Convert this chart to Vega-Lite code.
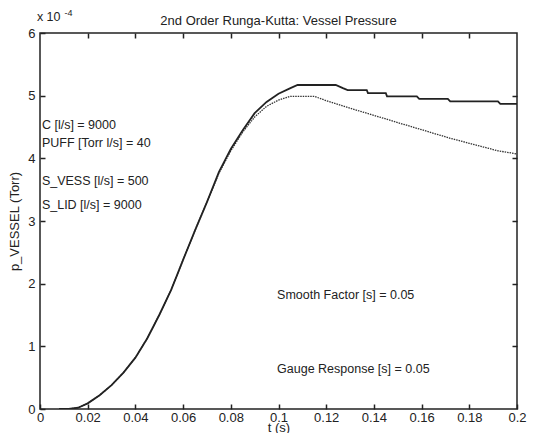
{
  "$schema": "https://vega.github.io/schema/vega-lite/v6.json",
  "width": 477,
  "height": 376,
  "autosize": {"type": "none"},
  "padding": {"left": 40, "top": 33, "right": 19, "bottom": 24},
  "background": "white",
  "config": {
    "font": "Liberation Sans",
    "view": {"stroke": "#222", "strokeWidth": 1.5},
    "axis": {"grid": false, "domain": false, "tickColor": "#222", "tickWidth": 1.5, "tickSize": -5, "labelColor": "#222", "labelFontSize": 13, "labelFont": "Liberation Sans", "titleColor": "#222", "titleFont": "Liberation Sans", "titleFontWeight": "normal", "titleFontSize": 13}
  },
  "title": {"text": "2nd Order Runga-Kutta: Vessel Pressure", "fontSize": 13, "fontWeight": "normal", "color": "#222", "font": "Liberation Sans", "offset": -19, "anchor": "middle"},
  "datasets": {
    "curves": [
      {"t": 0.008, "v": 0, "s": "A"}, {"t": 0.012, "v": 0, "s": "A"}, {"t": 0.016, "v": 0.02, "s": "A"}, {"t": 0.02, "v": 0.09, "s": "A"}, {"t": 0.025, "v": 0.22, "s": "A"}, {"t": 0.03, "v": 0.38, "s": "A"}, {"t": 0.035, "v": 0.58, "s": "A"}, {"t": 0.04, "v": 0.82, "s": "A"}, {"t": 0.045, "v": 1.13, "s": "A"}, {"t": 0.05, "v": 1.5, "s": "A"}, {"t": 0.055, "v": 1.9, "s": "A"}, {"t": 0.06, "v": 2.38, "s": "A"}, {"t": 0.065, "v": 2.85, "s": "A"}, {"t": 0.07, "v": 3.3, "s": "A"}, {"t": 0.075, "v": 3.78, "s": "A"}, {"t": 0.08, "v": 4.15, "s": "A"}, {"t": 0.085, "v": 4.45, "s": "A"}, {"t": 0.09, "v": 4.72, "s": "A"}, {"t": 0.095, "v": 4.9, "s": "A"}, {"t": 0.1, "v": 5.03, "s": "A"}, {"t": 0.105, "v": 5.12, "s": "A"}, {"t": 0.108, "v": 5.17, "s": "A"}, {"t": 0.124, "v": 5.17, "s": "A"}, {"t": 0.127, "v": 5.12, "s": "A"}, {"t": 0.129, "v": 5.09, "s": "A"}, {"t": 0.137, "v": 5.09, "s": "A"}, {"t": 0.1375, "v": 5.04, "s": "A"}, {"t": 0.145, "v": 5.04, "s": "A"}, {"t": 0.1455, "v": 4.99, "s": "A"}, {"t": 0.158, "v": 4.99, "s": "A"}, {"t": 0.159, "v": 4.95, "s": "A"}, {"t": 0.171, "v": 4.95, "s": "A"}, {"t": 0.172, "v": 4.91, "s": "A"}, {"t": 0.192, "v": 4.91, "s": "A"}, {"t": 0.193, "v": 4.87, "s": "A"}, {"t": 0.2, "v": 4.87, "s": "A"},
      {"t": 0.008, "v": 0, "s": "B"}, {"t": 0.012, "v": 0, "s": "B"}, {"t": 0.016, "v": 0.02, "s": "B"}, {"t": 0.02, "v": 0.09, "s": "B"}, {"t": 0.025, "v": 0.22, "s": "B"}, {"t": 0.03, "v": 0.38, "s": "B"}, {"t": 0.035, "v": 0.58, "s": "B"}, {"t": 0.04, "v": 0.82, "s": "B"}, {"t": 0.045, "v": 1.13, "s": "B"}, {"t": 0.05, "v": 1.5, "s": "B"}, {"t": 0.055, "v": 1.9, "s": "B"}, {"t": 0.06, "v": 2.38, "s": "B"}, {"t": 0.065, "v": 2.85, "s": "B"}, {"t": 0.07, "v": 3.3, "s": "B"}, {"t": 0.075, "v": 3.76, "s": "B"}, {"t": 0.08, "v": 4.12, "s": "B"}, {"t": 0.085, "v": 4.42, "s": "B"}, {"t": 0.09, "v": 4.66, "s": "B"}, {"t": 0.095, "v": 4.83, "s": "B"}, {"t": 0.1, "v": 4.93, "s": "B"}, {"t": 0.105, "v": 4.99, "s": "B"}, {"t": 0.115, "v": 4.99, "s": "B"}, {"t": 0.12, "v": 4.92, "s": "B"}, {"t": 0.125, "v": 4.86, "s": "B"}, {"t": 0.13, "v": 4.8, "s": "B"}, {"t": 0.137, "v": 4.72, "s": "B"}, {"t": 0.144, "v": 4.64, "s": "B"}, {"t": 0.15, "v": 4.57, "s": "B"}, {"t": 0.158, "v": 4.48, "s": "B"}, {"t": 0.165, "v": 4.4, "s": "B"}, {"t": 0.172, "v": 4.32, "s": "B"}, {"t": 0.18, "v": 4.24, "s": "B"}, {"t": 0.186, "v": 4.18, "s": "B"}, {"t": 0.192, "v": 4.12, "s": "B"}, {"t": 0.2, "v": 4.07, "s": "B"}
    ],
    "notes": [
      {"t": 0.0008, "v": 4.53, "label": "C [l/s] = 9000"},
      {"t": 0.0008, "v": 4.24, "label": "PUFF [Torr l/s] = 40"},
      {"t": 0.0008, "v": 3.64, "label": "S_VESS [l/s] = 500"},
      {"t": 0.0008, "v": 3.25, "label": "S_LID [l/s] = 9000"},
      {"t": 0.0994, "v": 1.82, "label": "Smooth Factor [s] = 0.05"},
      {"t": 0.0994, "v": 0.64, "label": "Gauge Response [s] = 0.05"}
    ],
    "exp": [
      {"t": -0.0013, "v": 6.25, "label": "x 10", "k": "base"},
      {"t": 0.0103, "v": 6.32, "label": "-4", "k": "sup"}
    ]
  },
  "layer": [
    {
      "data": {"name": "curves"},
      "transform": [{"filter": "datum.s === 'B'"}],
      "mark": {"type": "line", "color": "#333", "strokeWidth": 1.3, "strokeDash": [1.5, 1], "clip": true},
      "encoding": {
        "x": {"field": "t", "type": "quantitative", "scale": {"domain": [0, 0.2], "nice": false, "zero": false}, "axis": {"values": [0, 0.02, 0.04, 0.06, 0.08, 0.1, 0.12, 0.14, 0.16, 0.18, 0.2], "format": "~g", "title": "t (s)", "labelPadding": 7, "titlePadding": -3, "labelFlush": false}},
        "y": {"field": "v", "type": "quantitative", "scale": {"domain": [0, 6], "nice": false}, "axis": {"values": [0, 1, 2, 3, 4, 5, 6], "title": "p_VESSEL (Torr)", "labelPadding": 10, "titlePadding": 6, "labelFlush": false}}
      }
    },
    {
      "data": {"name": "curves"},
      "transform": [{"filter": "datum.s === 'A'"}],
      "mark": {"type": "line", "color": "#222", "strokeWidth": 1.8, "clip": true},
      "encoding": {
        "x": {"field": "t", "type": "quantitative", "axis": {"orient": "top", "values": [0.02, 0.04, 0.06, 0.08, 0.1, 0.12, 0.14, 0.16, 0.18], "labels": false, "title": null}},
        "y": {"field": "v", "type": "quantitative", "axis": {"orient": "right", "values": [1, 2, 3, 4, 5], "labels": false, "title": null}}
      }
    },
    {
      "data": {"name": "notes"},
      "mark": {"type": "text", "align": "left", "baseline": "middle", "fontSize": 12.5, "color": "#222", "font": "Liberation Sans"},
      "encoding": {
        "x": {"field": "t", "type": "quantitative", "axis": null},
        "y": {"field": "v", "type": "quantitative", "axis": null},
        "text": {"field": "label"}
      }
    },
    {
      "data": {"name": "exp"},
      "mark": {"type": "text", "align": "left", "baseline": "middle", "color": "#222", "font": "Liberation Sans"},
      "encoding": {
        "x": {"field": "t", "type": "quantitative", "axis": null},
        "y": {"field": "v", "type": "quantitative", "axis": null},
        "text": {"field": "label"},
        "size": {"field": "k", "type": "nominal", "scale": {"domain": ["base", "sup"], "range": [12.5, 9]}, "legend": null}
      }
    }
  ],
  "resolve": {"axis": {"x": "independent", "y": "independent"}}
}
